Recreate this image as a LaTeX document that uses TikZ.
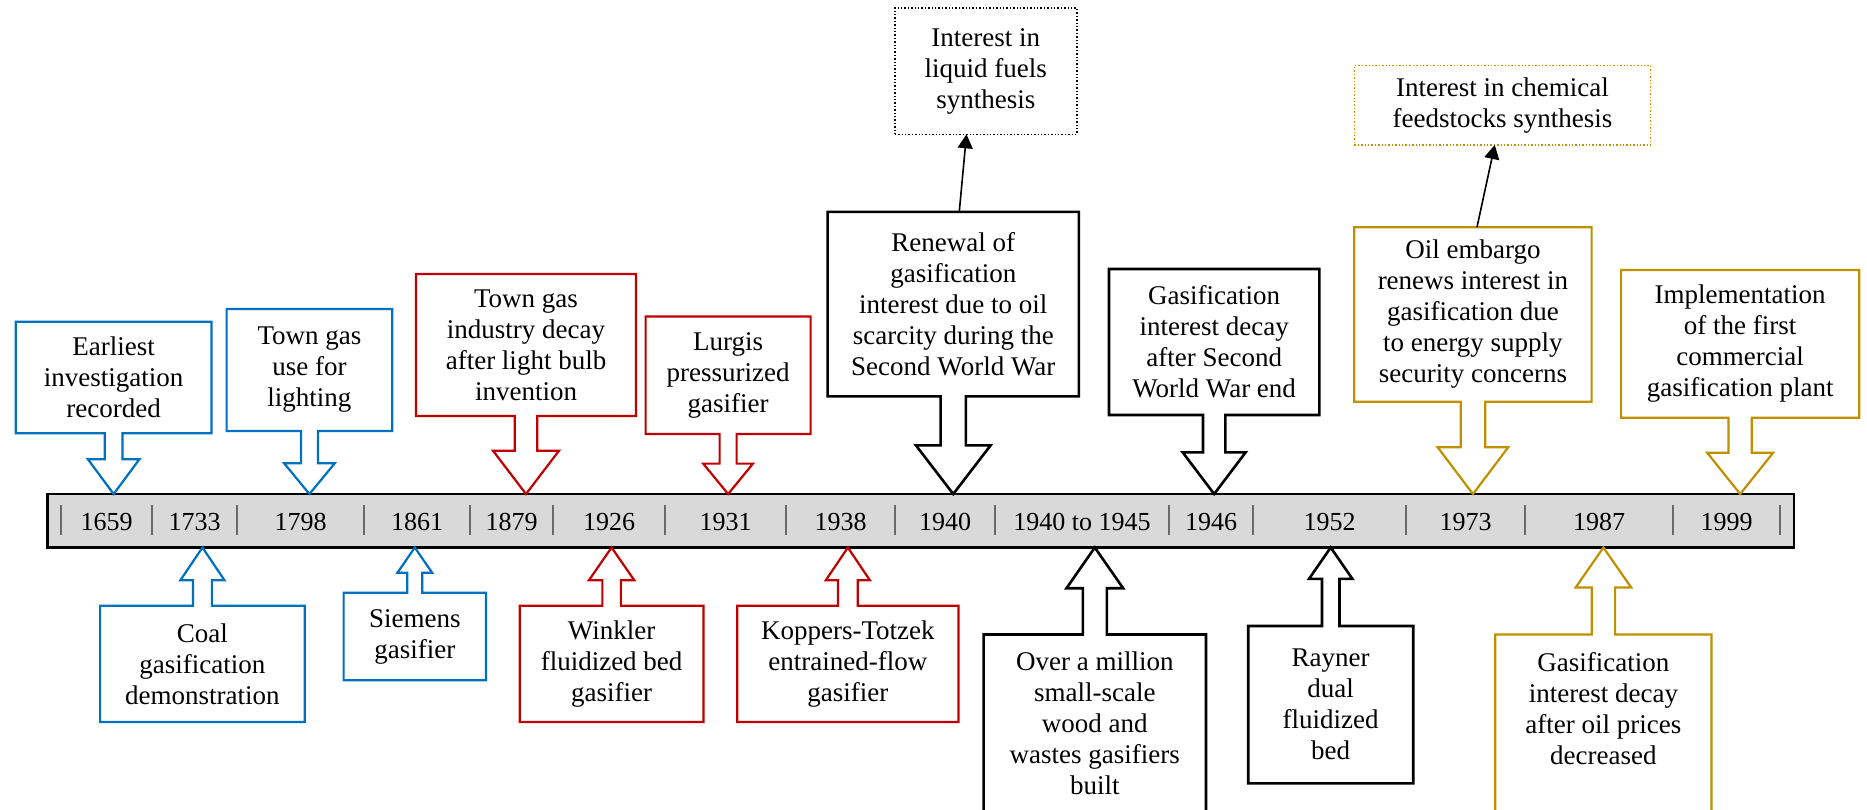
\documentclass[tikz,border=0pt]{standalone}
\usepackage{fontspec}
\setmainfont{Liberation Serif}
\usetikzlibrary{calc,arrows.meta}

\definecolor{cblue}{RGB}{0,112,192}
\definecolor{cred}{RGB}{192,0,0}
\definecolor{cgold}{RGB}{191,144,0}
\definecolor{bargray}{RGB}{217,217,217}
\definecolor{sepgray}{RGB}{105,105,105}

\tikzset{
  event/.style 2 args={minimum width={(#1)*0.5pt}, minimum height={(#2)*0.5pt},
    inner sep=0pt, outer sep=0pt, align=center,
    font=\fontsize{13.5}{15.5}\selectfont},
  outline/.style={line width=1.1pt, line join=miter},
  outlineblack/.style={line width=1.3pt, line join=miter},
  note/.style={densely dotted, line width=0.7pt},
  link/.style={line width=0.8pt, -{Triangle[length=7pt,width=7.5pt]}},
  yearlabel/.style={font=\fontsize{13}{15}\selectfont, inner sep=0pt},
  sep/.style={sepgray, line width=0.75pt},
}

% callout pointing down onto the bar: node, shaft half-width, head half-width, head length
\newcommand{\downcallout}[5][]{%
  \coordinate (tipD) at (#2.south |- bar.north);
  \draw[#1] (#2.north west) -- (#2.north east) -- (#2.south east)
    -- ($(#2.south)+(#3,0)$) -- ($(tipD)+(#3,-#5)$) -- ($(tipD)+(#4,-#5)$)
    -- (tipD) -- ($(tipD)+(-#4,-#5)$) -- ($(tipD)+(-#3,-#5)$)
    -- ($(#2.south)+(-#3,0)$) -- (#2.south west) -- cycle;
}
% callout pointing up onto the bar: node, shaft half-width, head half-width, head length, bottom extension
\newcommand{\upcallout}[6][]{%
  \coordinate (tipU) at (#2.north |- bar.south);
  \draw[#1] ($(#2.south west)+(0,#6)$) -- (#2.north west) -- ($(#2.north)+(-#3,0)$)
    -- ($(tipU)+(-#3,#5)$) -- ($(tipU)+(-#4,#5)$) -- (tipU)
    -- ($(tipU)+(#4,#5)$) -- ($(tipU)+(#3,#5)$) -- ($(#2.north)+(#3,0)$)
    -- (#2.north east) -- ($(#2.south east)+(0,#6)$)
    \ifdim #6pt=0pt -- cycle\fi;
}

\begin{document}
\begin{tikzpicture}[x=0.5pt,y=-0.5pt]
\fill[white] (0,0) rectangle (1867,809);
\clip (0,0) rectangle (1867,809);

% timeline bar
\node[draw=black, fill=bargray, line width=1.3pt, inner sep=0pt, outer sep=0pt,
      minimum width={1746.3*0.5pt}, minimum height={53.5*0.5pt}] (bar) at (920.85,520.75) {};
\foreach \x in {61,152,237,364,470,553,665,786,895,995,1169,1253,1406,1525,1673,1780}
  \draw[sep] (\x,505) -- (\x,535);
\foreach \a/\b/\t/\n in {61/152/1659/y1659, 152/237/1733/y1733, 237/364/1798/y1798,
    364/470/1861/y1861, 470/553/1879/y1879, 553/665/1926/y1926, 665/786/1931/y1931,
    786/895/1938/y1938, 895/995/1940/y1940, 995/1169/1940 to 1945/y1940to1945,
    1169/1253/1946/y1946, 1253/1406/1952/y1952, 1406/1525/1973/y1973,
    1525/1673/1987/y1987, 1673/1780/1999/y1999}
  \node[yearlabel] (\n) at ({(\a+\b)/2},522) {\t};

% events above the bar
\node[event={195.7}{111.6}] (earliest) at (113.65,377.5) {Earliest\\investigation\\recorded};
\node[event={165.7}{122}] (townuse) at (309.45,370) {Town gas\\use for\\lighting};
\node[event={220}{142}] (towndecay) at (526,345) {Town gas\\industry decay\\after light bulb\\invention};
\node[event={165}{117.5}] (lurgi) at (728.1,375.15) {Lurgis\\pressurized\\gasifier};
\node[event={251.3}{184.6}] (renewal) at (953.25,304.1) {Renewal of\\gasification\\interest due to oil\\scarcity during the\\Second World War};
\node[event={210.3}{146}] (wwend) at (1214.15,342) {Gasification\\interest decay\\after Second\\World War end};
\node[event={237.3}{174.4}] (embargo) at (1472.95,314.5) {Oil embargo\\renews interest in\\gasification due\\to energy supply\\security concerns};
\node[event={238.1}{147.7}] (implement) at (1740.15,343.85) {Implementation\\of the first\\commercial\\gasification plant};

\downcallout[outline, cblue]{earliest}{8.9}{25.7}{34.7}
\downcallout[outline, cblue]{townuse}{8.5}{25.3}{30.7}
\downcallout[outline, cred]{towndecay}{11.2}{33}{43.3}
\downcallout[outline, cred]{lurgi}{8.5}{24.9}{30.4}
\downcallout[outlineblack]{renewal}{12.65}{37.3}{48.6}
\downcallout[outlineblack]{wwend}{11.2}{31.5}{41.7}
\downcallout[outline, cgold]{embargo}{12.2}{35.25}{46.7}
\downcallout[outline, cgold]{implement}{11.6}{33}{41.3}

% events below the bar
\node[event={204.7}{116.2}] (coal) at (202.45,663.9) {Coal\\gasification\\demonstration};
\node[event={142.4}{87.6}] (siemens) at (414.8,636.5) {Siemens\\gasifier};
\node[event={183.6}{116.3}] (winkler) at (611.6,663.85) {Winkler\\fluidized bed\\gasifier};
\node[event={221.3}{116.3}] (koppers) at (847.85,663.85) {Koppers-Totzek\\entrained-flow\\gasifier};
\node[event={222.4}{178}] (million) at (1094.8,723.5) {Over a million\\small-scale\\wood and\\wastes gasifiers\\built};
\node[event={165}{157.3}] (rayner) at (1330.7,704.65) {Rayner\\dual\\fluidized\\bed};
\node[event={216.2}{149}] (oilprice) at (1603.4,709) {Gasification\\interest decay\\after oil prices\\decreased};

\upcallout[outline, cblue]{coal}{9.4}{22.1}{32.8}{0}
\upcallout[outline, cblue]{siemens}{7.5}{17.4}{25.3}{0}
\upcallout[outline, cred]{winkler}{9.25}{22.65}{32.7}{0}
\upcallout[outline, cred]{koppers}{9.9}{22}{32.7}{0}
\upcallout[outlineblack]{million}{12}{28.3}{40.7}{30}
\upcallout[outlineblack]{rayner}{8.75}{21.65}{31.3}{0}
\upcallout[outline, cgold]{oilprice}{11.7}{27.8}{40}{60}

% consequences in dotted boxes
\node[event={182}{126.4}, draw=black, note] (liquid) at (985.8,71.1) {Interest in\\liquid fuels\\synthesis};
\node[event={296.3}{79.3}, draw=cgold, note] (chem) at (1502.45,105.35) {Interest in chemical\\feedstocks synthesis};
\draw[link] ([xshift=3pt]renewal.north) -- ([xshift=-9.65pt]liquid.south);
\draw[link] ([xshift=2pt]embargo.north) -- ([xshift=-3.85pt]chem.south);
\end{tikzpicture}
\end{document}
